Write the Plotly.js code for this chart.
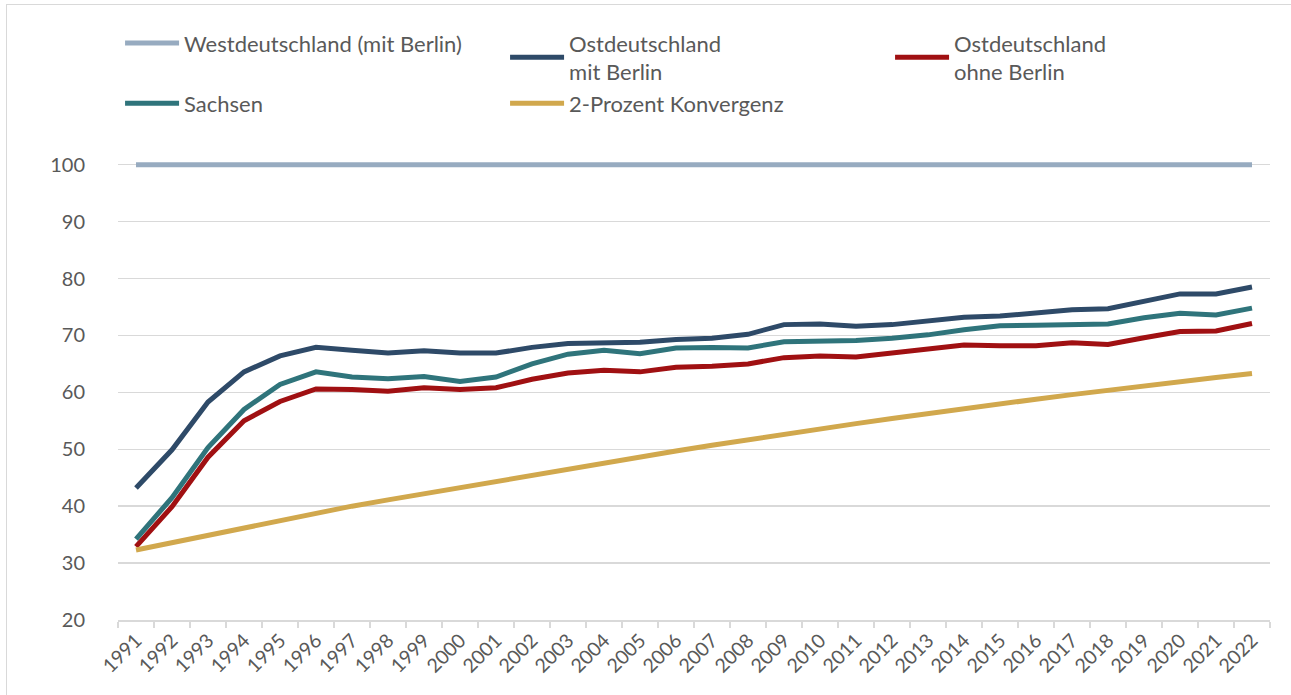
<!DOCTYPE html>
<html>
<head>
<meta charset="utf-8">
<script src="https://cdn.plot.ly/plotly-3.0.1.min.js"></script>
<style>
html,body{margin:0;padding:0;background:#fff;}
#frame{position:absolute;left:6px;top:4px;width:1300px;height:700px;border-left:1.5px solid #d9d9d9;border-top:1.5px solid #d9d9d9;box-sizing:border-box;pointer-events:none;}
#chart{width:1291px;height:695px;}
</style>
</head>
<body>
<div id="chart"></div>
<div id="frame"></div>
<script>
const years = ["1991","1992","1993","1994","1995","1996","1997","1998","1999","2000","2001","2002","2003","2004","2005","2006","2007","2008","2009","2010","2011","2012","2013","2014","2015","2016","2017","2018","2019","2020","2021","2022"];
const west = [100,100,100,100,100,100,100,100,100,100,100,100,100,100,100,100,100,100,100,100,100,100,100,100,100,100,100,100,100,100,100,100];
const ostMitBerlin = [43.2,49.9,58.3,63.6,66.4,67.9,67.4,66.9,67.3,66.9,66.9,67.9,68.6,68.7,68.8,69.3,69.5,70.2,71.9,72.0,71.6,71.9,72.5,73.2,73.4,73.9,74.5,74.7,76.0,77.3,77.3,78.5];
const ostOhneBerlin = [32.9,39.9,48.6,55.0,58.4,60.6,60.5,60.2,60.8,60.5,60.8,62.3,63.4,63.9,63.6,64.4,64.6,65.0,66.1,66.4,66.2,66.9,67.6,68.3,68.2,68.2,68.7,68.4,69.6,70.7,70.8,72.1];
const sachsen = [34.2,41.5,50.3,57.0,61.4,63.6,62.7,62.4,62.8,61.9,62.7,65.0,66.7,67.4,66.8,67.8,67.9,67.8,68.9,68.9,69.1,69.5,70.1,71.0,71.7,71.8,72.0,72.0,73.1,73.9,73.6,74.8];
const konvergenz = [32.3,33.6,35.0,36.3,37.5,38.8,40.0,41.1,42.2,43.3,44.4,45.5,46.6,47.7,48.7,49.7,50.7,51.7,52.7,53.6,54.5,55.4,56.3,57.1,57.9,58.8,59.6,60.4,61.1,61.9,62.6,63.3];
const yTicks = [20,30,40,50,60,70,80,90,100];

const names = ["Westdeutschland (mit Berlin)","Ostdeutschland<br>mit Berlin","Ostdeutschland<br>ohne Berlin","Sachsen","2-Prozent Konvergenz"];
const series = [west, ostMitBerlin, ostOhneBerlin, sachsen, konvergenz];
const colors = ["#97abc0","#2e4a68","#a01012","#2f747b","#d1a84d"];

const traces = series.map((s,i)=>({
  x: years, y: s, name: names[i], type:"scatter", mode:"lines",
  line:{color:colors[i], width:5, shape:"linear"},
  hoverinfo:"x+y+name"
}));

const font = "Lato, 'Noto Sans', sans-serif";
const layout = {
  width:1291, height:695,
  margin:{l:118, r:21, t:159, b:75},
  paper_bgcolor:"#fff", plot_bgcolor:"#fff",
  font:{family:font, color:"#595959", size:20},
  showlegend:true,
  legend:{
    orientation:"h", xref:"container", yref:"container",
    x:0.093, y:0.968, xanchor:"left", yanchor:"top",
    entrywidth:316, entrywidthmode:"pixels",
    itemwidth:54, tracegroupgap:0,
    font:{family:font, size:22, color:"#595959"},
    bgcolor:"rgba(0,0,0,0)"
  },
  xaxis:{
    type:"category", tickson:"boundaries", ticks:"outside", ticklen:6, tickcolor:"#d9d9d9", tickwidth:1.5,
    showline:true, linecolor:"#d9d9d9", linewidth:1.5,
    showgrid:false, tickangle:-45, tickfont:{size:19.5, family:font, color:"#595959"},
    range:[-0.5, 31.5], fixedrange:true
  },
  yaxis:{
    range:[20,101], tickvals:yTicks, showgrid:true, gridcolor:"#d9d9d9", gridwidth:1.5,
    zeroline:false, showline:false, ticks:"", ticklabelstandoff:32,
    tickfont:{size:20, family:font, color:"#595959"}, fixedrange:true
  }
};
Plotly.newPlot("chart", traces, layout, {displayModeBar:false, staticPlot:true});
</script>
</body>
</html>
